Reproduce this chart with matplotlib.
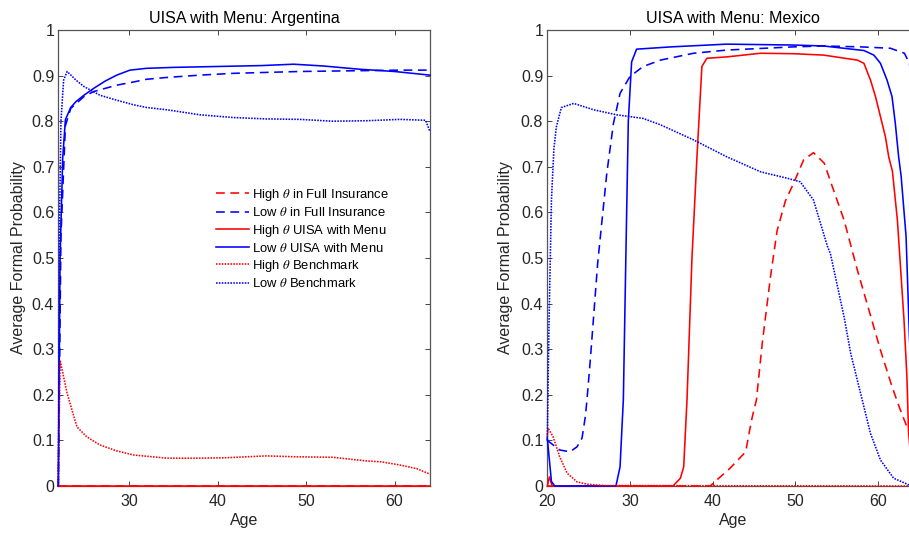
import numpy as np
import matplotlib
matplotlib.use('Agg')
from matplotlib import pyplot as plt
from matplotlib.ticker import FormatStrFormatter

plt.rcParams['font.family'] = ['Liberation Sans', 'DejaVu Sans']
plt.rcParams['mathtext.fontset'] = 'stix'

# ---- Argentina (left panel) ----
arg_hi_full_age = [22, 64]
arg_hi_full = [0, 0]
arg_lo_full_age = [22, 22.3, 22.8, 23.4, 24.9, 26.0, 28.6, 30.5, 32.0, 34.3, 38, 41.8, 45.5, 49.3, 53, 57, 60.6, 64]
arg_lo_full = [0, 0.55, 0.79, 0.828, 0.854, 0.865, 0.879, 0.886, 0.892, 0.896, 0.901, 0.905, 0.907, 0.909, 0.910, 0.911, 0.912, 0.912]
arg_hi_uisa_age = [22, 64]
arg_hi_uisa = [0, 0]
arg_lo_uisa_age = [22, 22.2, 22.5, 22.8, 23.4, 24.0, 24.9, 26.0, 27.3, 28.6, 30.1, 32.0, 35, 40, 45, 48.6, 52, 56, 60, 64]
arg_lo_uisa = [0, 0.5, 0.72, 0.803, 0.83, 0.843, 0.857, 0.872, 0.888, 0.901, 0.912, 0.916, 0.918, 0.920, 0.922, 0.925, 0.921, 0.914, 0.909, 0.901]
arg_hi_bench_age = [22, 22.2, 23.0, 24.1, 25.2, 26.7, 28.6, 30.5, 34.3, 38, 41, 45.5, 49, 53, 56.8, 58.5, 60.6, 62.5, 64]
arg_hi_bench = [0, 0.276, 0.203, 0.13, 0.108, 0.09, 0.077, 0.068, 0.061, 0.061, 0.062, 0.066, 0.064, 0.063, 0.055, 0.053, 0.046, 0.038, 0.026]
arg_lo_bench_age = [22, 22.15, 22.3, 22.6, 23.0, 24.0, 24.9, 26.7, 28.6, 30.5, 32.0, 34.3, 38, 41.8, 45.5, 49.3, 53, 56.8, 60.6, 63.5, 64]
arg_lo_bench = [0, 0.6, 0.8, 0.89, 0.909, 0.89, 0.876, 0.857, 0.846, 0.836, 0.83, 0.825, 0.814, 0.808, 0.805, 0.804, 0.800, 0.801, 0.804, 0.802, 0.777]

# ---- Mexico (right panel) ----
mex_hi_full_age = [20, 39.7, 40.5, 42.1, 44.0, 44.4, 44.8, 45.3, 46.0, 47.0, 47.8, 48.8, 49.8, 51.0, 52.2, 53.5, 54.2, 55.9, 57.5, 59.0, 60.3, 61.7, 62.7, 63.5, 64]
mex_hi_full = [0, 0, 0.013, 0.039, 0.075, 0.115, 0.152, 0.189, 0.313, 0.459, 0.56, 0.625, 0.664, 0.715, 0.731, 0.708, 0.671, 0.583, 0.474, 0.38, 0.298, 0.218, 0.167, 0.13, 0.11]
mex_lo_full_age = [20, 21.5, 22.75, 23.6, 24.2, 24.6, 24.8, 25.2, 26.1, 27.2, 28.0, 28.8, 30.0, 31.6, 33.7, 37.7, 41.7, 49.8, 53.4, 57.9, 61.5, 63.2, 63.8, 64]
mex_lo_full = [0.1, 0.079, 0.075, 0.086, 0.105, 0.152, 0.189, 0.276, 0.49, 0.686, 0.795, 0.861, 0.898, 0.92, 0.934, 0.949, 0.956, 0.963, 0.965, 0.963, 0.96, 0.949, 0.927, 0.90]
mex_hi_uisa_age = [20, 20.25, 20.6, 35.2, 36.1, 36.5, 36.7, 36.9, 37.5, 38.1, 38.7, 39.3, 41.7, 45.8, 49.8, 53.4, 57.5, 58.3, 59.1, 59.7, 60.3, 60.9, 61.3, 61.75, 62.35, 62.75, 63.15, 63.5, 63.7, 64]
mex_hi_uisa = [0, 0.02, 0, 0, 0.017, 0.042, 0.116, 0.189, 0.5, 0.72, 0.92, 0.938, 0.941, 0.949, 0.948, 0.945, 0.934, 0.927, 0.89, 0.854, 0.81, 0.766, 0.722, 0.69, 0.583, 0.474, 0.364, 0.24, 0.12, 0.05]
mex_lo_uisa_age = [20, 20.5, 20.9, 28.3, 28.8, 29.0, 29.2, 29.5, 29.8, 30.2, 30.8, 35, 41.7, 49.8, 53.4, 58.3, 59.5, 60.3, 61.1, 61.7, 62.1, 62.5, 62.8, 63.4, 63.8, 64]
mex_lo_uisa = [0.105, 0.01, 0, 0, 0.042, 0.116, 0.19, 0.5, 0.8, 0.93, 0.958, 0.963, 0.969, 0.967, 0.965, 0.955, 0.945, 0.927, 0.89, 0.854, 0.795, 0.722, 0.68, 0.547, 0.33, 0.25]
mex_hi_bench_age = [20, 20.1, 20.7, 21.5, 22.4, 23.6, 24.8, 27, 64]
mex_hi_bench = [0.11, 0.127, 0.108, 0.064, 0.028, 0.009, 0.004, 0.001, 0]
mex_lo_bench_age = [20, 20.2, 20.5, 20.8, 21.1, 21.7, 23.2, 25.6, 28.4, 31.6, 33.7, 37.7, 41.7, 45.8, 49.0, 50.6, 52.2, 53.9, 54.24, 55.9, 56.7, 57.9, 59.1, 60.3, 61.9, 63.8, 64]
mex_lo_bench = [0.1, 0.35, 0.627, 0.74, 0.788, 0.83, 0.839, 0.825, 0.814, 0.806, 0.792, 0.759, 0.722, 0.689, 0.675, 0.667, 0.627, 0.525, 0.51, 0.371, 0.291, 0.203, 0.115, 0.057, 0.017, 0.002, 0.001]

labels = ['High $\\theta$ in Full Insurance', 'Low $\\theta$ in Full Insurance',
          'High $\\theta$ UISA with Menu', 'Low $\\theta$ UISA with Menu',
          'High $\\theta$ Benchmark', 'Low $\\theta$ Benchmark']
yticks = [0, 0.1, 0.2, 0.3, 0.4, 0.5, 0.6, 0.7, 0.8, 0.9, 1]

RED = (1, 0, 0)
BLUE = (0, 0, 1)
AXC = '#262626'
LW = 1.15


def draw_panel(ax, series, title, xlim, xticks):
    styles = [(RED, (0, (5.5, 3.5))), (BLUE, (0, (5.5, 3.5))), (RED, '-'), (BLUE, '-'),
              (RED, (0, (1, 0.8))), (BLUE, (0, (1, 0.8)))]
    for (x, y), (c, ls), lab in zip(series, styles, labels):
        ax.plot(x, y, color=c, linestyle=ls, linewidth=LW, label=lab,
                clip_on=False, zorder=3)
    ax.set_xlim(xlim)
    ax.set_ylim(0, 1)
    ax.set_xticks(xticks)
    ax.set_yticks(yticks)
    ax.yaxis.set_major_formatter(FormatStrFormatter('%g'))
    ax.tick_params(direction='in', top=True, right=True, length=3.5, width=0.6,
                   color=AXC, labelcolor=AXC, labelsize=11.5)
    ax.tick_params(axis='x', pad=6)
    ax.tick_params(axis='y', pad=3)
    for s in ax.spines.values():
        s.set_color('#555555')
        s.set_linewidth(0.9)
    ax.set_title(title, fontsize=11.5, color='k', pad=5)
    ax.set_xlabel('Age', fontsize=11.5, color=AXC)
    ax.set_ylabel('Average Formal Probability', fontsize=11.5, color=AXC)


fig = plt.figure(figsize=(9.09, 5.33), dpi=100)
ax1 = fig.add_axes([58.3 / 909, 47 / 533, 371.7 / 909, 456 / 533])
ax2 = fig.add_axes([547.3 / 909, 47 / 533, 372 / 909, 456 / 533])

arg_series = [(arg_hi_full_age, arg_hi_full), (arg_lo_full_age, arg_lo_full),
              (arg_hi_uisa_age, arg_hi_uisa), (arg_lo_uisa_age, arg_lo_uisa),
              (arg_hi_bench_age, arg_hi_bench), (arg_lo_bench_age, arg_lo_bench)]
mex_series = [(mex_hi_full_age, mex_hi_full), (mex_lo_full_age, mex_lo_full),
              (mex_hi_uisa_age, mex_hi_uisa), (mex_lo_uisa_age, mex_lo_uisa),
              (mex_hi_bench_age, mex_hi_bench), (mex_lo_bench_age, mex_lo_bench)]

draw_panel(ax1, arg_series, 'UISA with Menu: Argentina', (22, 64), [30, 40, 50, 60])
draw_panel(ax2, mex_series, 'UISA with Menu: Mexico', (20, 65), [20, 30, 40, 50, 60])

ax1.yaxis.set_label_coords(-0.086, 0.5)
ax2.yaxis.set_label_coords(-0.092, 0.5)
ax1.xaxis.set_label_coords(0.5, -0.06)
ax2.xaxis.set_label_coords(0.5, -0.06)

ax1.legend(loc='upper left', bbox_to_anchor=(216 / 909, 1 - 187 / 533),
           bbox_transform=fig.transFigure, frameon=False, fontsize=9.4,
           handlelength=2.5, handletextpad=0.25, labelspacing=0.25, borderpad=0,
           borderaxespad=0)

fig.savefig('out.png', dpi=100)
